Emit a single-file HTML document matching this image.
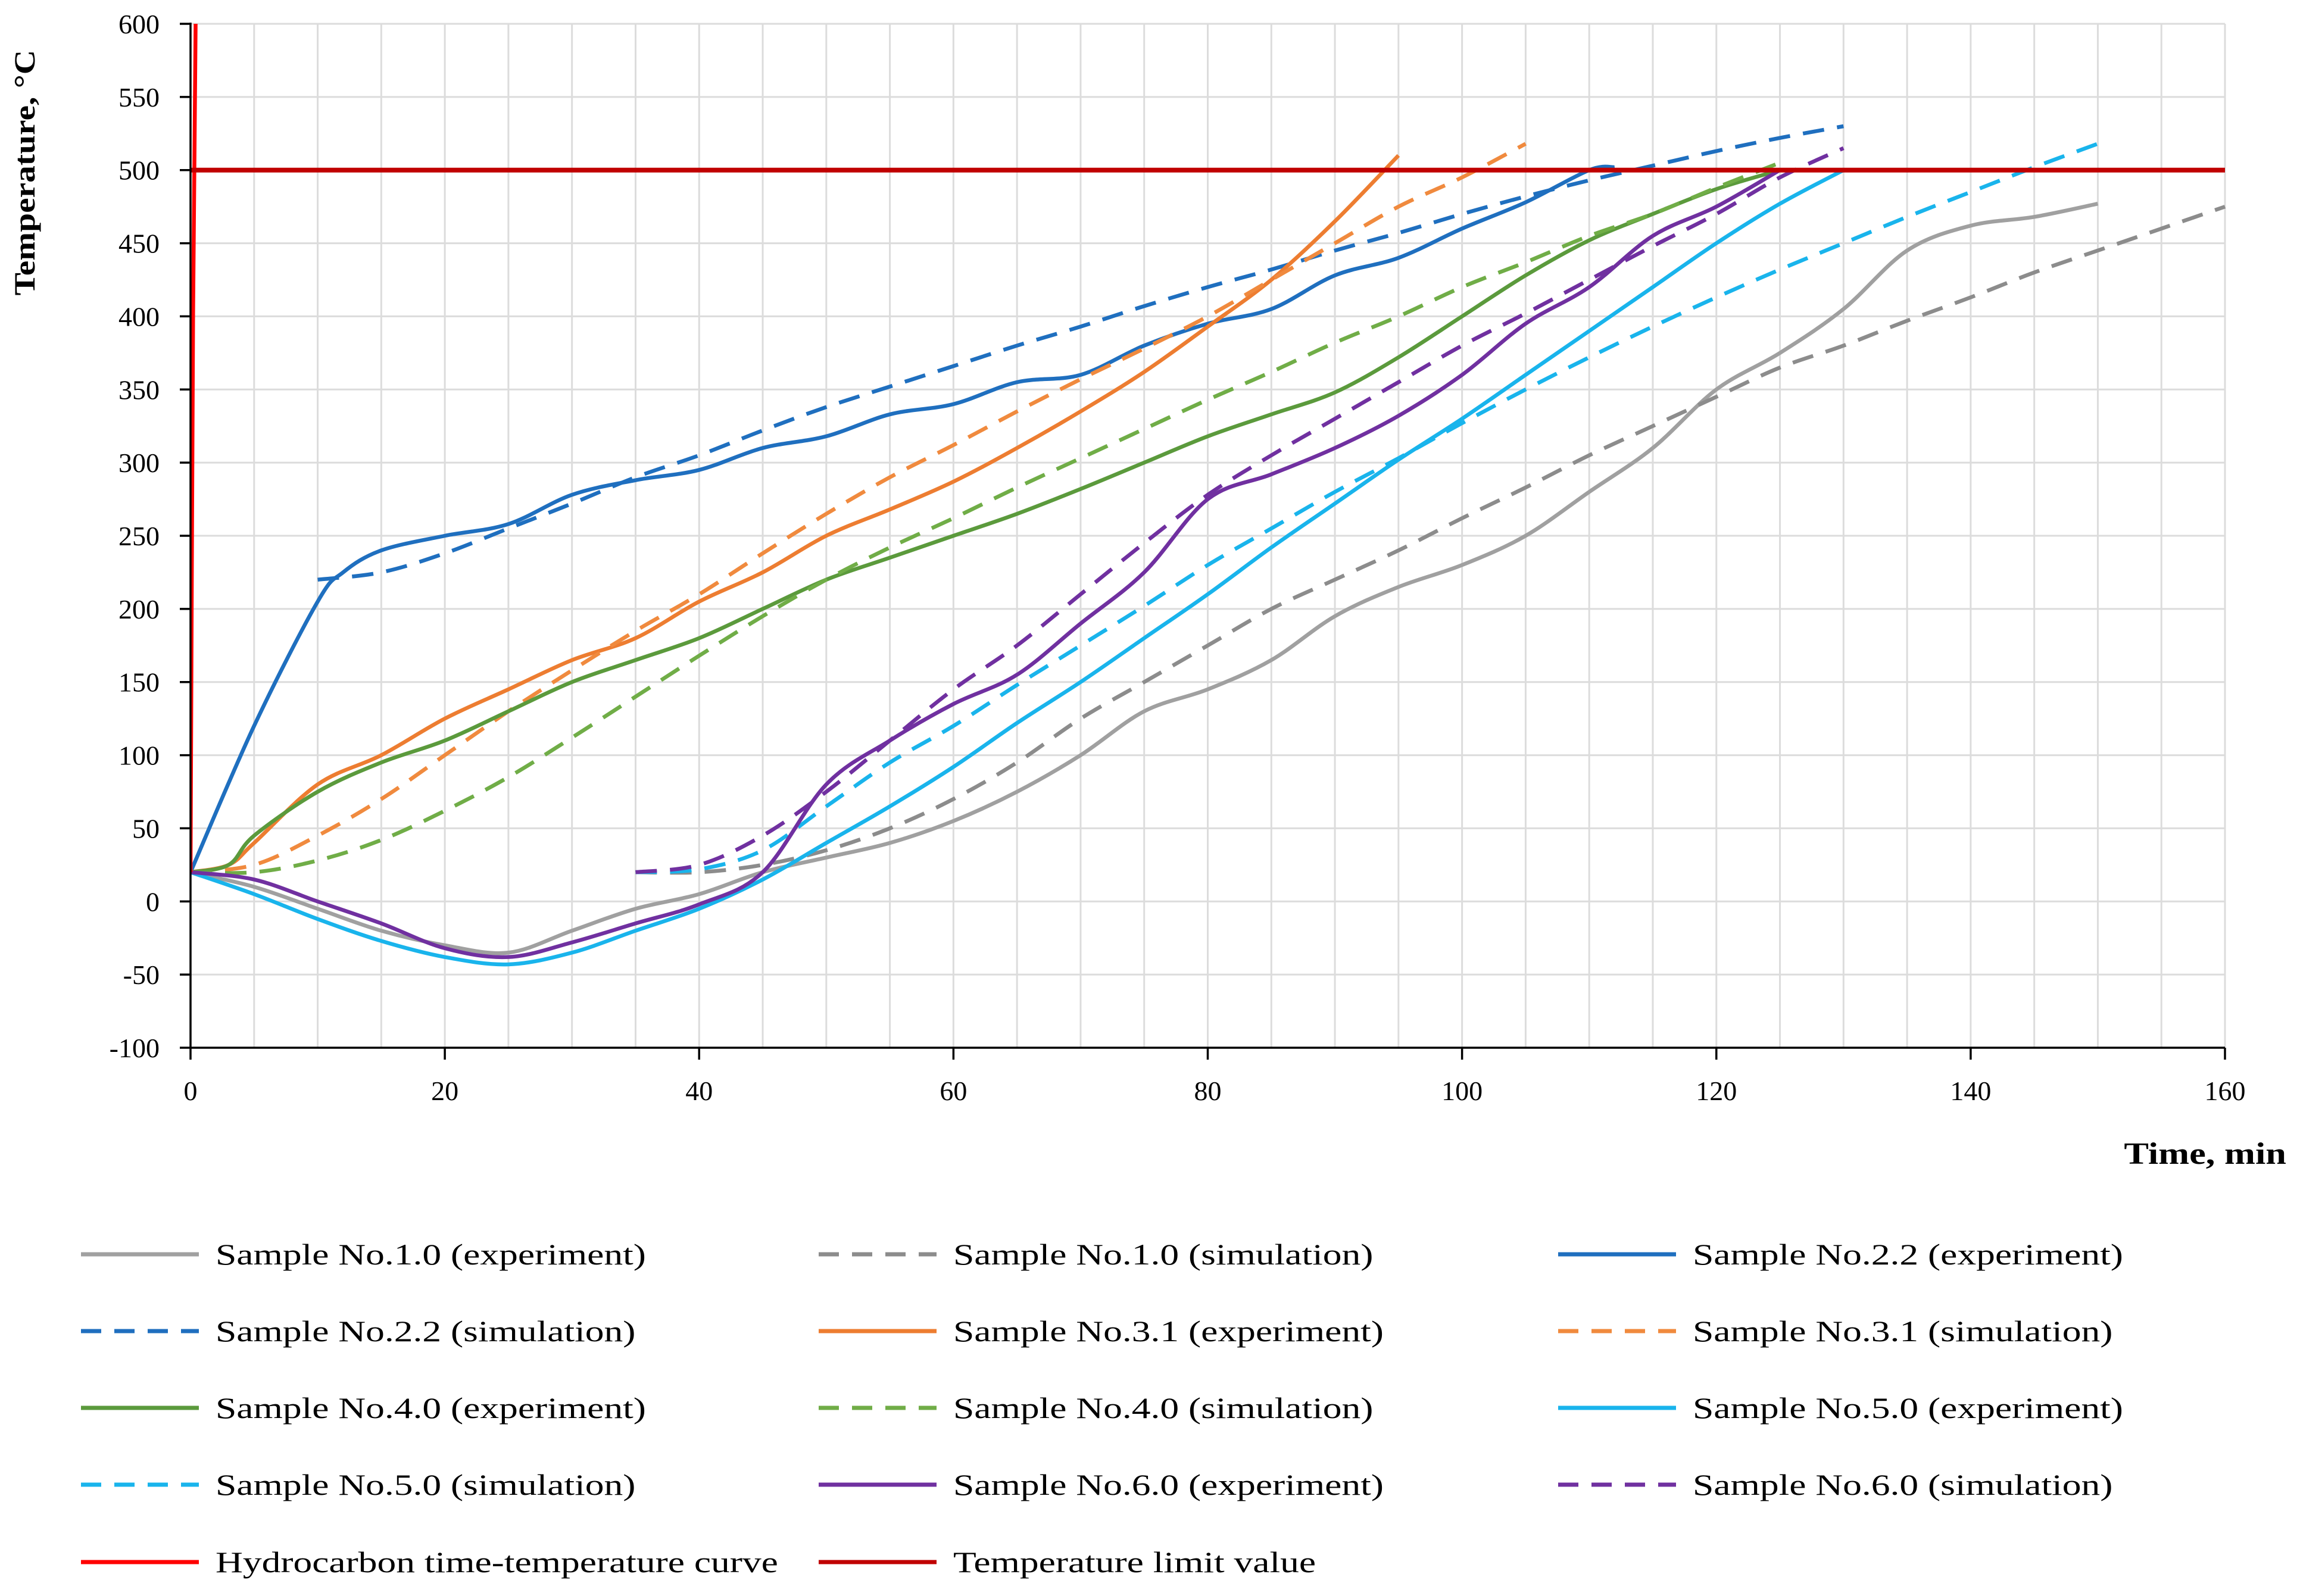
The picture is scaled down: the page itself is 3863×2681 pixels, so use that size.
<!DOCTYPE html>
<html><head><meta charset="utf-8"><style>
html,body{margin:0;padding:0;background:#fff;width:3863px;height:2681px;overflow:hidden}
svg text{font-family:"Liberation Serif",serif;}
</style></head><body>
<svg id="chart" width="3863" height="2681" viewBox="0 0 3863 2681" xmlns="http://www.w3.org/2000/svg">
<g id="grid"></g>
<g id="series"></g>
<g id="axes"></g>
<text transform="translate(58,290) rotate(-90) scale(1.15,1)" text-anchor="middle" font-size="50" font-weight="bold">Temperature, °C</text>
<text transform="translate(3840,1955) scale(1.2,1)" text-anchor="end" font-size="52" font-weight="bold">Time, min</text>
<g id="legend"></g>
</svg>
<script>
const xTicks=[0,20,40,60,80,100,120,140,160];
const yTicks=[-100,-50,0,50,100,150,200,250,300,350,400,450,500,550,600];
const s10e=[[0,20],[5,10],[10,-5],[15,-20],[20,-30],[25,-35],[30,-20],[35,-5],[40,5],[45,20],[50,30],[55,40],[60,55],[65,75],[70,100],[75,130],[80,145],[85,165],[90,195],[95,215],[100,230],[105,250],[110,280],[115,310],[120,350],[125,375],[130,405],[135,445],[140,462],[145,468],[150,477]];
const s10s=[[35,20],[40,20],[45,25],[50,35],[55,50],[60,70],[65,95],[70,125],[75,150],[80,175],[85,200],[90,220],[95,240],[100,262],[105,283],[110,305],[115,325],[120,345],[125,365],[130,380],[135,397],[140,413],[145,430],[150,445],[155,460],[160,475]];
const s22e=[[0,20],[5,120],[10,205],[12,225],[15,240],[20,250],[25,258],[30,278],[35,288],[40,295],[45,310],[50,318],[55,333],[60,340],[65,355],[70,360],[75,380],[80,395],[85,405],[90,428],[95,440],[100,460],[105,478],[110,500],[112,502]];
const s22s=[[10,220],[15,225],[20,238],[25,255],[30,272],[35,290],[40,305],[45,322],[50,338],[55,352],[60,366],[65,380],[70,393],[75,407],[80,420],[85,432],[90,445],[95,457],[100,470],[105,482],[110,493],[115,503],[120,513],[125,522],[130,530]];
const s31e=[[0,20],[3,25],[5,40],[10,80],[15,100],[20,125],[25,145],[30,165],[35,180],[40,205],[45,225],[50,250],[55,268],[60,287],[65,310],[70,335],[75,362],[80,393],[85,425],[90,465],[95,510]];
const s31s=[[0,20],[5,25],[10,45],[15,70],[20,100],[25,130],[30,158],[35,185],[40,210],[45,238],[50,265],[55,290],[60,312],[65,335],[70,357],[75,378],[80,400],[85,425],[90,450],[95,475],[100,495],[105,518]];
const s40e=[[0,20],[3,25],[5,45],[10,75],[15,95],[20,110],[25,130],[30,150],[35,165],[40,180],[45,200],[50,220],[55,235],[60,250],[65,265],[70,282],[75,300],[80,318],[85,333],[90,348],[95,372],[100,400],[105,428],[110,452],[115,470],[120,487],[125,500]];
const s40s=[[0,20],[5,20],[10,28],[15,42],[20,62],[25,85],[30,112],[35,140],[40,168],[45,195],[50,220],[55,242],[60,262],[65,283],[70,303],[75,323],[80,343],[85,362],[90,382],[95,400],[100,420],[105,437],[110,455],[115,470],[120,488],[125,505]];
const s50e=[[0,20],[5,5],[10,-12],[15,-27],[20,-38],[25,-43],[30,-35],[35,-20],[40,-5],[45,15],[50,40],[55,65],[60,92],[65,122],[70,150],[75,180],[80,210],[85,242],[90,272],[95,302],[100,330],[105,360],[110,390],[115,420],[120,450],[125,477],[130,500]];
const s50s=[[35,20],[40,22],[45,35],[50,65],[55,95],[60,120],[65,148],[70,175],[75,202],[80,230],[85,255],[90,280],[95,303],[100,327],[105,350],[110,372],[115,393],[120,413],[125,432],[130,450],[135,468],[140,485],[145,502],[150,518]];
const s60e=[[0,20],[5,15],[10,0],[15,-15],[20,-32],[25,-38],[30,-28],[35,-15],[40,-2],[45,20],[50,80],[55,110],[60,135],[65,155],[70,190],[75,225],[80,275],[85,292],[90,310],[95,332],[100,360],[105,395],[110,420],[115,455],[120,475],[125,500]];
const s60s=[[35,20],[40,25],[45,45],[50,75],[55,110],[60,145],[65,175],[70,210],[75,245],[80,278],[85,305],[90,330],[95,355],[100,380],[105,402],[110,425],[115,448],[120,470],[125,495],[130,515]];
const hcCurve=[[0,20],[0.2,400],[0.42,620]];
const limitCurve=[[0,500],[160,500]];
const series=[
 {n:"Sample No.1.0 (experiment)",d:s10e,c:"#a0a0a0",dash:false,k:"s10e"},
 {n:"Sample No.1.0 (simulation)",d:s10s,c:"#8c8c8c",dash:true,k:"s10s"},
 {n:"Sample No.2.2 (experiment)",d:s22e,c:"#1f6fbf",dash:false,k:"s22e"},
 {n:"Sample No.2.2 (simulation)",d:s22s,c:"#1f6fbf",dash:true,k:"s22s"},
 {n:"Sample No.3.1 (experiment)",d:s31e,c:"#ed7d31",dash:false,k:"s31e"},
 {n:"Sample No.3.1 (simulation)",d:s31s,c:"#f08a3e",dash:true,k:"s31s"},
 {n:"Sample No.4.0 (experiment)",d:s40e,c:"#5b9a3c",dash:false,k:"s40e"},
 {n:"Sample No.4.0 (simulation)",d:s40s,c:"#70ad47",dash:true,k:"s40s"},
 {n:"Sample No.5.0 (experiment)",d:s50e,c:"#19b4ec",dash:false,k:"s50e"},
 {n:"Sample No.5.0 (simulation)",d:s50s,c:"#19b4ec",dash:true,k:"s50s"},
 {n:"Sample No.6.0 (experiment)",d:s60e,c:"#7030a0",dash:false,k:"s60e"},
 {n:"Sample No.6.0 (simulation)",d:s60s,c:"#7030a0",dash:true,k:"s60s"},
 {n:"Hydrocarbon time-temperature curve",d:hcCurve,c:"#ff0000",dash:false,k:"hc"},
 {n:"Temperature limit value",d:limitCurve,c:"#c00000",dash:false,k:"limit"}
];
const X0=320,X1=3737,Y0=1760,Y1=40;
function sx(t){return X0+(t-0)/(160-0)*(X1-X0);}
function sy(v){return Y0-(v+100)/(700)*(Y0-Y1);}
const NS="http://www.w3.org/2000/svg";
function mk(tag,attrs,parent){const e=document.createElementNS(NS,tag);for(const k in attrs)e.setAttribute(k,attrs[k]);parent.appendChild(e);return e;}
const grid=document.getElementById('grid'),axes=document.getElementById('axes'),ser=document.getElementById('series'),leg=document.getElementById('legend');
for(let t=5;t<=160;t+=5){const l=mk('line',{x1:sx(t),x2:sx(t),y1:Y1,y2:Y0,stroke:'#dcdcdc','stroke-width':3},grid);

}
for(const v of yTicks){if(v===-100)continue;const l=mk('line',{x1:X0,x2:X1,y1:sy(v),y2:sy(v),stroke:'#dcdcdc','stroke-width':3},grid);

}
function path(d){const p=d.map(a=>[sx(a[0]),sy(a[1])]);let s='M'+p[0][0]+','+p[0][1];
for(let i=0;i<p.length-1;i++){const p0=p[i-1]||p[i],p1=p[i],p2=p[i+1],p3=p[i+2]||p2;
const c1=[p1[0]+(p2[0]-p0[0])/6,p1[1]+(p2[1]-p0[1])/6],c2=[p2[0]-(p3[0]-p1[0])/6,p2[1]-(p3[1]-p1[1])/6];
s+=' C'+c1+' '+c2+' '+p2;}return s;}
mk('clipPath',{id:'clip'},ser);document.getElementById('clip').appendChild(document.createElementNS(NS,'rect'));
const cr=document.querySelector('#clip rect');cr.setAttribute('x',X0);cr.setAttribute('y',Y1);cr.setAttribute('width',X1-X0+20);cr.setAttribute('height',Y0-Y1);
for(const s of series){const p=mk('path',{d:path(s.d),fill:'none',stroke:s.c,'stroke-width':s.k==='limit'?8:6.5,'stroke-dasharray':s.dash?'36 22':'none','clip-path':'url(#clip)'},ser);

}
mk('line',{x1:X0,x2:X0,y1:Y1-2,y2:Y0,stroke:'#000','stroke-width':3.5},axes);
mk('line',{x1:X0,x2:X1,y1:Y0,y2:Y0,stroke:'#000','stroke-width':3.5},axes);
for(const v of yTicks){mk('line',{x1:X0-18,x2:X0,y1:sy(v),y2:sy(v),stroke:'#000','stroke-width':3.5},axes);
const t=mk('text',{x:268,y:sy(v)+16,'text-anchor':'end','font-size':46},axes);t.textContent=v;

}
for(const v of xTicks){mk('line',{x1:sx(v),x2:sx(v),y1:Y0,y2:Y0+20,stroke:'#000','stroke-width':3.5},axes);
const t=mk('text',{x:sx(v),y:1848,'text-anchor':'middle','font-size':46},axes);t.textContent=v;

}
const colX=[136,1375,2617],rowY=[2107,2236,2365,2494,2624];
series.forEach((s,i)=>{const c=i%3,r=Math.floor(i/3);const x=colX[c],y=rowY[r];
const g=mk('g',{},leg);


mk('line',{x1:x,x2:x+198,y1:y,y2:y,stroke:s.c,'stroke-width':7,'stroke-dasharray':s.dash?'34 22':'none'},g);
const t=mk('text',{transform:'translate('+(x+226)+','+(y+17)+') scale(1.27,1)','font-size':50},g);t.textContent=s.n;});
</script>
</body></html>
